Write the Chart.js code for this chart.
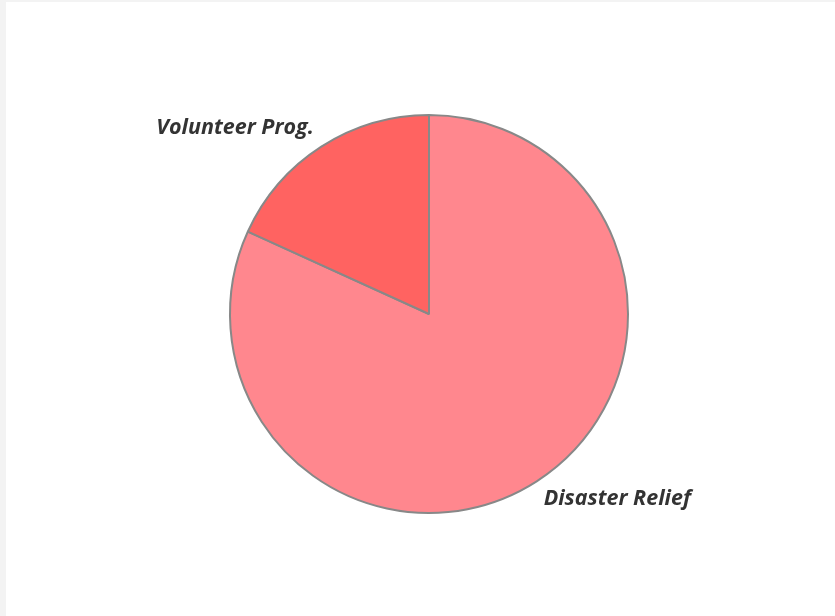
<!DOCTYPE html>
<html>
<head>
<meta charset="utf-8">
<script src="https://cdn.jsdelivr.net/npm/chart.js@4"></script>
<style>
  html, body { margin: 0; padding: 0; background: #f3f3f3; width: 835px; height: 616px; overflow: hidden; }
  #card { position: absolute; left: 6px; top: 2px; width: 829px; height: 614px; background: #ffffff; }
  #wrap { position: absolute; left: 0; top: 0; width: 835px; height: 616px; }
</style>
</head>
<body>
<div id="card"></div>
<div id="wrap"><canvas id="c" width="835" height="616"></canvas></div>
<script>
const categories = ["Disaster Relief", "Volunteer Prog."];
const values = [81.8, 18.2];
const sliceColors = ["#FF878E", "#FF6361"];

const outsideLabels = {
  id: 'outsideLabels',
  afterDatasetsDraw(chart) {
    const ctx = chart.ctx;
    const meta = chart.getDatasetMeta(0);
    ctx.save();
    ctx.font = 'italic bold 21.5px "Open Sans"';
    ctx.fillStyle = '#333333';
    ctx.textBaseline = 'alphabetic';
    meta.data.forEach((arc, i) => {
      const mid = (arc.startAngle + arc.endAngle) / 2;
      const r = arc.outerRadius + 11;
      const px = arc.x + Math.cos(mid) * r;
      const py = arc.y + Math.sin(mid) * r;
      const left = Math.cos(mid) < 0;
      const upper = Math.sin(mid) < 0;
      ctx.textAlign = left ? 'right' : 'left';
      const x = px + (left ? -1.5 : 1);
      const y = upper ? py - 3 : py + 14;
      ctx.fillText(chart.data.labels[i], x, y);
    });
    ctx.restore();
  }
};

new Chart(document.getElementById('c'), {
  type: 'pie',
  data: {
    labels: categories,
    datasets: [{
      data: values,
      backgroundColor: sliceColors,
      borderColor: '#888888',
      borderWidth: 2
    }]
  },
  options: {
    responsive: false,
    animation: false,
    layout: { padding: { left: 229, right: 206, top: 114, bottom: 102 } },
    plugins: {
      legend: { display: false },
      tooltip: { enabled: false }
    }
  },
  plugins: [outsideLabels]
});
</script>
</body>
</html>
